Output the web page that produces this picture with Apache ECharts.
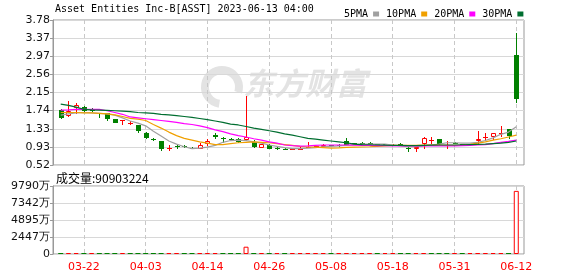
<!DOCTYPE html>
<html>
<head>
<meta charset="utf-8">
<script src="https://cdn.jsdelivr.net/npm/echarts/dist/echarts.min.js"></script>
<style>html,body{margin:0;padding:0;background:#fff}#c{width:578px;height:276px}</style>
</head>
<body>
<div id="c"></div>
<script>
const dates = ['03-17','03-20','03-21','03-22','03-23','03-24','03-27','03-28','03-29','03-30','03-31',
'04-03','04-04','04-05','04-06','04-10','04-11','04-12','04-13','04-14','04-17','04-18','04-19','04-20','04-21',
'04-24','04-25','04-26','04-27','04-28','05-01','05-02','05-03','05-04','05-05','05-08','05-09','05-10','05-11',
'05-12','05-15','05-16','05-17','05-18','05-19','05-22','05-23','05-24','05-25','05-26','05-30','05-31','06-01',
'06-02','06-05','06-06','06-07','06-08','06-09','06-12'];
const tickDates = ['03-22','04-03','04-14','04-26','05-08','05-18','05-31','06-12'];
// [open, close, low, high]
const ohlc = [
[1.76,1.58,1.55,1.78],[1.615,1.73,1.61,1.97],[1.80,1.86,1.67,1.91],[1.83,1.73,1.72,1.84],[1.78,1.73,1.71,1.80],
[1.69,1.67,1.57,1.70],[1.68,1.56,1.52,1.69],[1.55,1.47,1.46,1.56],[1.52,1.53,1.43,1.54],[1.45,1.46,1.42,1.50],
[1.42,1.29,1.25,1.43],[1.25,1.13,1.10,1.26],[1.11,1.09,1.07,1.12],[1.06,0.89,0.84,1.07],[0.89,0.91,0.84,0.98],
[0.95,0.93,0.88,0.98],[0.95,0.92,0.90,0.96],[0.91,0.90,0.87,0.93],[0.89,0.96,0.88,1.02],[0.99,1.07,0.95,1.11],
[1.20,1.14,1.10,1.23],[1.12,1.10,1.01,1.16],[1.10,1.08,1.06,1.12],[1.10,1.03,1.01,1.13],[1.08,1.14,1.07,2.08],
[1.03,0.92,0.91,1.08],[0.91,1.00,0.90,1.00],[0.98,0.89,0.88,0.99],[0.90,0.89,0.85,0.92],[0.89,0.88,0.86,0.90],
[0.87,0.88,0.86,0.89],[0.88,0.89,0.85,0.93],[0.91,0.93,0.90,1.04],[0.93,0.94,0.92,0.95],[0.93,0.96,0.92,1.00],
[0.96,0.95,0.93,0.97],[0.96,0.95,0.92,0.99],[1.05,0.97,0.96,1.12],[1.01,0.99,0.98,1.02],[1.01,0.99,0.98,1.03],
[1.02,1.01,0.99,1.03],[1.00,0.98,0.93,1.00],[0.99,0.98,0.97,0.99],[0.97,0.98,0.96,0.99],[1.00,0.95,0.94,1.01],
[0.91,0.89,0.82,0.93],[0.87,0.92,0.82,0.93],[0.99,1.13,0.87,1.14],[1.07,1.08,0.99,1.16],[1.10,0.99,0.98,1.10],
[0.95,0.98,0.89,1.07],[1.02,1.01,1.00,1.03],[1.00,0.97,0.97,1.00],[0.98,0.99,0.97,1.00],[1.07,1.10,0.99,1.28],
[1.13,1.14,1.07,1.23],[1.14,1.23,1.08,1.24],[1.23,1.24,1.16,1.40],[1.33,1.17,1.10,1.34],[2.99,2.00,1.92,3.48]
];
const ma5 = [1.64,1.67,1.69,1.70,1.69,1.68,1.67,1.64,1.58,1.51,1.46,1.40,1.28,1.17,1.06,0.99,0.93,0.89,0.90,0.92,
0.96,1.03,1.07,1.08,1.07,1.04,1.01,0.97,0.94,0.91,0.89,0.89,0.90,0.91,0.93,0.94,0.95,0.96,0.98,0.99,
0.99,0.99,0.99,0.97,0.95,0.93,0.93,0.95,0.97,0.99,1.02,1.02,1.01,1.01,1.03,1.07,1.13,1.21,1.26,1.38];
const ma10 = [1.70,1.70,1.70,1.69,1.69,1.68,1.67,1.645,1.61,1.57,1.55,1.52,1.43,1.35,1.26,1.18,1.12,1.08,1.04,1.01,
0.98,0.98,1.00,1.02,1.03,1.04,1.03,1.02,1.00,0.98,0.96,0.94,0.925,0.92,0.91,0.90,0.905,0.915,0.92,0.925,
0.93,0.94,0.95,0.96,0.96,0.96,0.96,0.965,0.97,0.965,0.96,0.96,0.97,0.985,1.01,1.04,1.08,1.11,1.15,1.19];
const ma20 = [1.755,1.76,1.77,1.77,1.77,1.77,1.74,1.70,1.66,1.60,1.58,1.56,1.54,1.52,1.50,1.48,1.45,1.43,1.40,1.36,
1.31,1.27,1.22,1.18,1.15,1.11,1.08,1.04,1.01,0.97,0.955,0.945,0.95,0.96,0.97,0.97,0.97,0.97,0.965,0.96,
0.96,0.955,0.955,0.95,0.95,0.95,0.95,0.95,0.95,0.95,0.95,0.95,0.955,0.96,0.97,0.98,1.00,1.03,1.05,1.08];
const ma30 = [1.89,1.86,1.82,1.77,1.76,1.755,1.75,1.74,1.73,1.72,1.70,1.69,1.68,1.66,1.645,1.63,1.61,1.59,1.565,1.54,
1.51,1.48,1.44,1.42,1.385,1.35,1.32,1.29,1.26,1.22,1.19,1.155,1.12,1.10,1.08,1.06,1.04,1.02,0.99,0.98,
0.975,0.97,0.965,0.963,0.96,0.955,0.955,0.96,0.965,0.97,0.97,0.97,0.975,0.98,0.985,0.99,1.00,1.01,1.03,1.06];
const volume = [1450000,980000,620000,540000,410000,380000,450000,520000,690000,470000,610000,780000,520000,940000,880000,
430000,360000,310000,420000,650000,540000,390000,280000,330000,10500000,1200000,820000,560000,420000,310000,
260000,280000,340000,250000,300000,220000,210000,480000,260000,230000,190000,240000,200000,180000,230000,
310000,260000,520000,330000,360000,290000,210000,200000,190000,640000,380000,430000,560000,820000,90903224];
const priceTicks = ['0.52','0.93','1.33','1.74','2.15','2.56','2.97','3.37','3.78'];
const volTicks = ['0','2447万','4895万','7342万','9790万'];

const UP = '#ff0000', DOWN = '#008000';
const cats = [''].concat(dates, ['']);
const showTick = (idx, val) => tickDates.indexOf(val) >= 0;
const labelFont = 'DejaVu Sans';

const xBase = {
  type: 'category', data: cats, boundaryGap: false,
  axisLine: { show: false }, axisTick: { show: false },
  splitLine: { show: true, interval: showTick, lineStyle: { color: '#c8c8c8', type: [4, 3], width: 1 } }
};

function renderCandle(params, api) {
  const xi = api.value(0), o = api.value(1), c = api.value(2), l = api.value(3), h = api.value(4);
  const cx = Math.round(api.coord([xi, o])[0]);
  const yo = api.coord([xi, o])[1], yc = api.coord([xi, c])[1];
  const yl = Math.round(api.coord([xi, l])[1]), yh = Math.round(api.coord([xi, h])[1]);
  const up = c >= o;
  const col = up ? UP : DOWN;
  const top = Math.round(Math.min(yo, yc)), bot = Math.round(Math.max(yo, yc));
  const wx = cx + 0.5;
  const children = [];
  if (yh < top) children.push({ type: 'line', shape: { x1: wx, y1: yh, x2: wx, y2: top }, style: { stroke: col, lineWidth: 1 } });
  if (yl > bot) children.push({ type: 'line', shape: { x1: wx, y1: bot, x2: wx, y2: yl }, style: { stroke: col, lineWidth: 1 } });
  if (bot - top <= 1) {
    children.push({ type: 'rect', shape: { x: cx - 2, y: top, width: 5, height: 1 }, style: { fill: col } });
  } else if (up) {
    children.push({ type: 'rect', shape: { x: cx - 1.5, y: top + 0.5, width: 4, height: bot - top - 1 }, style: { fill: '#fff', stroke: col, lineWidth: 1 } });
  } else {
    children.push({ type: 'rect', shape: { x: cx - 2, y: top, width: 5, height: bot - top }, style: { fill: col } });
  }
  return { type: 'group', children };
}

const chart = echarts.init(document.getElementById('c'), null, { renderer: 'canvas' });
chart.setOption({
  animation: false,
  backgroundColor: '#fff',
  grid: [
    { left: 53, right: 54, top: 20, height: 145, show: true, borderColor: '#999', borderWidth: 1 },
    { left: 53, right: 54, top: 186, height: 68, show: true, borderColor: '#999', borderWidth: 1 }
  ],
  legend: {
    left: 339, top: 4, align: 'right', icon: 'rect', itemWidth: 6, itemHeight: 5, itemGap: 7,
    selectedMode: false,
    textStyle: { fontFamily: 'DejaVu Sans Mono', fontSize: 10, color: '#000' },
    data: ['5PMA', '10PMA', '20PMA', '30PMA']
  },
  graphic: [
    { type: 'text', left: 55, top: 4, z: 10, style: { text: 'Asset Entities Inc-B[ASST] 2023-06-13 04:00', fontFamily: 'DejaVu Sans Mono', fontSize: 10, fill: '#000' } },
    { type: 'text', left: 56, top: 172, z: 10, style: { text: '成交量:90903224', fontFamily: 'Noto Sans CJK SC', fontSize: 12, fill: '#000' } },
    { type: 'arc', z: -1, shape: { cx: 222, cy: 87, r: 17, startAngle: Math.PI * 0.55, endAngle: Math.PI * 2.1 }, style: { stroke: '#e3e3e3', lineWidth: 8, fill: null } },
    { type: 'text', left: 243, top: 68, z: -1, style: { text: '东方财富', fontFamily: 'Noto Sans CJK SC', fontWeight: 'bold', fontStyle: 'italic', fontSize: 31, fill: '#e3e3e3' } }
  ],
  xAxis: [
    Object.assign({ gridIndex: 0, axisLabel: { show: false } }, xBase),
    Object.assign({ gridIndex: 1, axisLabel: { show: true, interval: showTick, color: UP, fontFamily: labelFont, fontSize: 11, margin: 8 } }, xBase)
  ],
  yAxis: [
    { gridIndex: 0, type: 'value', min: 0.52, max: 3.78, position: 'right', show: false, splitLine: { show: false } },
    { gridIndex: 0, type: 'value', min: 0, max: 8, interval: 1, position: 'left',
      axisLine: { show: true, lineStyle: { color: '#999' } },
      axisTick: { show: true, length: 3, lineStyle: { color: '#999' } },
      axisLabel: { formatter: v => priceTicks[Math.round(v)], color: '#111', fontFamily: labelFont, fontSize: 11, margin: 3 },
      splitLine: { show: true, lineStyle: { color: '#d8d8d8' } } },
    { gridIndex: 1, type: 'value', min: 0, max: 97900000, interval: 24475000, position: 'left',
      axisLine: { show: true, lineStyle: { color: '#999' } },
      axisTick: { show: true, length: 3, lineStyle: { color: '#999' } },
      axisLabel: { formatter: v => volTicks[Math.round(v / 24475000)], color: '#111', fontFamily: labelFont, fontSize: 11, margin: 3 },
      splitLine: { show: true, lineStyle: { color: '#d8d8d8' } } }
  ],
  series: [
    { type: 'custom', name: 'K', xAxisIndex: 0, yAxisIndex: 0, clip: false, silent: true,
      encode: { x: 0, y: [1, 2, 3, 4] },
      renderItem: renderCandle,
      data: ohlc.map((d, i) => [i + 1, d[0], d[1], d[2], d[3]]) },
    { type: 'line', name: '5PMA', xAxisIndex: 0, yAxisIndex: 0, showSymbol: false, color: '#a0a0a0', lineStyle: { width: 1.2 }, data: ma5.map((v, i) => [i + 1, v]) },
    { type: 'line', name: '10PMA', xAxisIndex: 0, yAxisIndex: 0, showSymbol: false, color: '#f0a000', lineStyle: { width: 1.2 }, data: ma10.map((v, i) => [i + 1, v]) },
    { type: 'line', name: '20PMA', xAxisIndex: 0, yAxisIndex: 0, showSymbol: false, color: '#ff00ff', lineStyle: { width: 1.2 }, data: ma20.map((v, i) => [i + 1, v]) },
    { type: 'line', name: '30PMA', xAxisIndex: 0, yAxisIndex: 0, showSymbol: false, color: '#006e30', lineStyle: { width: 1.2 }, data: ma30.map((v, i) => [i + 1, v]) },
    { type: 'bar', name: 'VOL', xAxisIndex: 1, yAxisIndex: 2, barWidth: 5, barMinHeight: 1,
      data: volume.map((v, i) => {
        const prev = i > 0 ? ohlc[i - 1][1] : ohlc[i][0];
        const up = ohlc[i][1] >= prev;
        return { value: [i + 1, v], itemStyle: up ? { color: '#fff', borderColor: UP, borderWidth: 1 } : { color: DOWN, borderColor: DOWN, borderWidth: 0 } };
      }) }
  ]
});
</script>
</body>
</html>
